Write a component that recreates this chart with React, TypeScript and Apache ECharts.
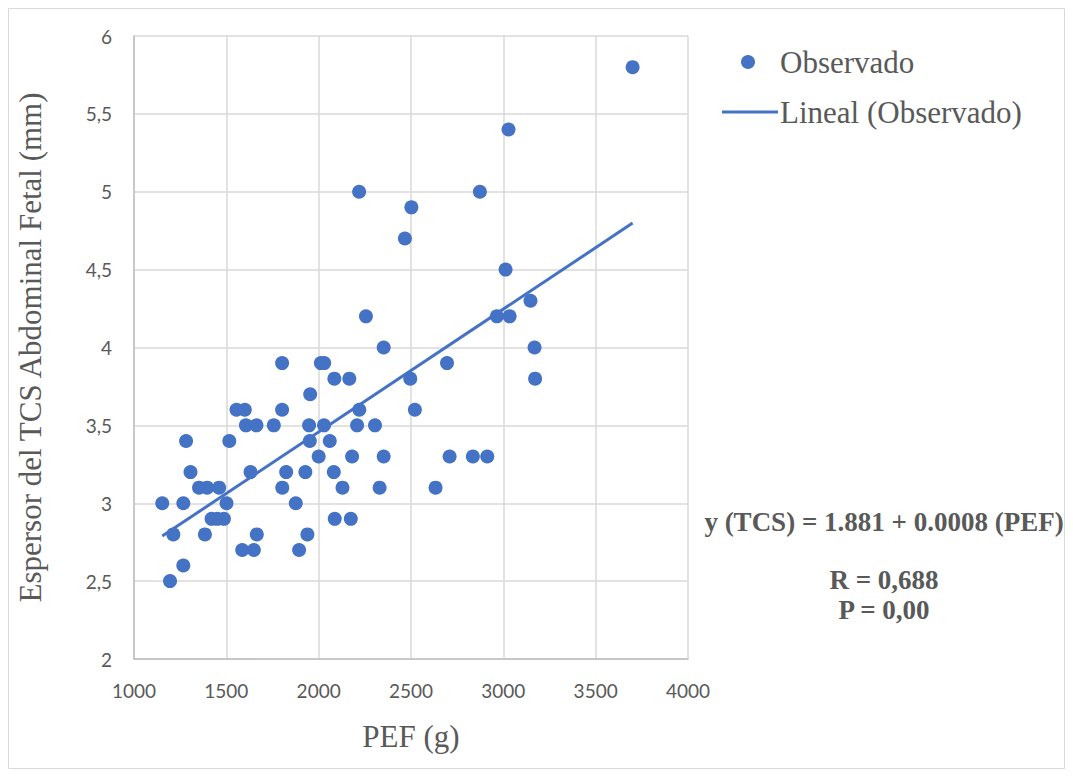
import React, { useEffect, useRef } from "react";
import * as echarts from "echarts";

const pefValues = [
  3700, 3028, 2873, 2219, 2502, 2467, 3012, 3147, 2256, 2965, 3034, 2352, 3169,
  1802, 2012, 2030, 2695, 2085, 2166, 2496, 3172, 1954, 1555, 1600, 1802, 2220,
  2521, 1606, 1663, 1757, 1948, 2029, 2208, 2305, 1282, 1516, 1952, 2060, 2000,
  2181, 2352, 2709, 2835, 2913, 1306, 1631, 1824, 1928, 2082, 1352, 1396, 1461,
  1803, 2129, 2330, 2633, 1153, 1267, 1501, 1876, 1420, 1451, 1487, 2087, 2174,
  1213, 1384, 1665, 1939, 1586, 1649, 1894, 1267, 1195,
];
const tcsValues = [
  5.8, 5.4, 5.0, 5.0, 4.9, 4.7, 4.5, 4.3, 4.2, 4.2, 4.2, 4.0, 4.0,
  3.9, 3.9, 3.9, 3.9, 3.8, 3.8, 3.8, 3.8, 3.7, 3.6, 3.6, 3.6, 3.6,
  3.6, 3.5, 3.5, 3.5, 3.5, 3.5, 3.5, 3.5, 3.4, 3.4, 3.4, 3.4, 3.3,
  3.3, 3.3, 3.3, 3.3, 3.3, 3.2, 3.2, 3.2, 3.2, 3.2, 3.1, 3.1, 3.1,
  3.1, 3.1, 3.1, 3.1, 3.0, 3.0, 3.0, 3.0, 2.9, 2.9, 2.9, 2.9, 2.9,
  2.8, 2.8, 2.8, 2.8, 2.7, 2.7, 2.7, 2.6, 2.5,
];

const xAxisTitle = "PEF (g)";
const yAxisTitle = "Espersor del TCS Abdominal Fetal (mm)";
const seriesName = "Observado";
const trendName = "Lineal (Observado)";
const annotationLines = ["y (TCS) = 1.881 + 0.0008 (PEF)", "R = 0,688", "P = 0,00"];

const BLUE = "#4472C4";
const TEXT = "#595959";
const SERIF = "'Liberation Serif', 'Times New Roman', serif";
const SANS = "Lato, 'Noto Sans', sans-serif";

function regression(xs: number[], ys: number[]) {
  const n = xs.length;
  let sx = 0, sy = 0, sxx = 0, sxy = 0;
  for (let i = 0; i < n; i++) {
    sx += xs[i]; sy += ys[i]; sxx += xs[i] * xs[i]; sxy += xs[i] * ys[i];
  }
  const b = (n * sxy - sx * sy) / (n * sxx - sx * sx);
  const a = (sy - b * sx) / n;
  return { a, b };
}

export default function App() {
  const ref = useRef<HTMLDivElement>(null);
  useEffect(() => {
    if (!ref.current) return;
    const chart = echarts.init(ref.current, null, { renderer: "svg" });
    const points = pefValues.map((x, i) => [x, tcsValues[i]]);
    const { a, b } = regression(pefValues, tcsValues);
    const xMin = Math.min(...pefValues);
    const xMax = Math.max(...pefValues);
    const trend = [
      [xMin, a + b * xMin],
      [xMax, a + b * xMax],
    ];
    const ann = `bold 27px ${SERIF}`;
    chart.setOption({
      animation: false,
      backgroundColor: "#ffffff",
      grid: { left: 134, top: 36, width: 554, height: 623, containLabel: false },
      xAxis: {
        type: "value",
        min: 1000,
        max: 4000,
        interval: 500,
        name: xAxisTitle,
        nameLocation: "middle",
        nameGap: 62,
        nameTextStyle: { fontFamily: SERIF, fontSize: 31, color: TEXT },
        axisLine: { show: true, lineStyle: { color: "#bfbfbf", width: 1.5 } },
        axisTick: { show: false },
        axisLabel: {
          fontFamily: SANS,
          fontSize: 19,
          color: TEXT,
          margin: 22,
          formatter: (v: number) => String(v),
        },
        splitLine: { show: true, lineStyle: { color: "#d9d9d9", width: 1.5 } },
      },
      yAxis: {
        type: "value",
        min: 2,
        max: 6,
        interval: 0.5,
        name: yAxisTitle,
        nameLocation: "middle",
        nameGap: 88,
        nameRotate: 90,
        nameTextStyle: { fontFamily: SERIF, fontSize: 31, color: TEXT },
        axisLine: { show: true, lineStyle: { color: "#bfbfbf", width: 1.5 } },
        axisTick: { show: false },
        axisLabel: {
          fontFamily: SANS,
          fontSize: 19,
          color: TEXT,
          margin: 22,
          formatter: (v: number) => String(v).replace(".", ","),
        },
        splitLine: { show: true, lineStyle: { color: "#d9d9d9", width: 1.5 } },
      },
      series: [
        {
          name: seriesName,
          type: "scatter",
          data: points,
          symbol: "circle",
          symbolSize: 14,
          itemStyle: { color: BLUE, opacity: 1 },
          z: 3,
        },
        {
          name: trendName,
          type: "line",
          data: trend,
          showSymbol: false,
          symbol: "none",
          lineStyle: { color: BLUE, width: 3 },
          z: 2,
        },
      ],
      graphic: [
        {
          type: "rect",
          shape: { x: 8.5, y: 8.5, width: 1056, height: 760 },
          style: { fill: "none", stroke: "#d9d9d9", lineWidth: 1 },
          silent: true,
        },
        {
          type: "circle",
          shape: { cx: 748, cy: 62, r: 7 },
          style: { fill: BLUE },
        },
        {
          type: "text",
          x: 780,
          y: 62,
          style: { text: seriesName, font: `31px ${SERIF}`, fill: TEXT, verticalAlign: "middle" },
        },
        {
          type: "line",
          shape: { x1: 722, y1: 112, x2: 778, y2: 112 },
          style: { stroke: BLUE, lineWidth: 3 },
        },
        {
          type: "text",
          x: 780,
          y: 112,
          style: { text: trendName, font: `31px ${SERIF}`, fill: TEXT, verticalAlign: "middle" },
        },
        {
          type: "text",
          x: 884,
          y: 522,
          style: { text: annotationLines[0], font: ann, fill: TEXT, align: "center", verticalAlign: "middle" },
        },
        {
          type: "text",
          x: 884,
          y: 580,
          style: { text: annotationLines[1], font: ann, fill: TEXT, align: "center", verticalAlign: "middle" },
        },
        {
          type: "text",
          x: 884,
          y: 610,
          style: { text: annotationLines[2], font: ann, fill: TEXT, align: "center", verticalAlign: "middle" },
        },
      ],
    });
    return () => chart.dispose();
  }, []);
  return <div ref={ref} style={{ width: 1073, height: 776, position: "absolute", left: 0, top: 0 }} />;
}
